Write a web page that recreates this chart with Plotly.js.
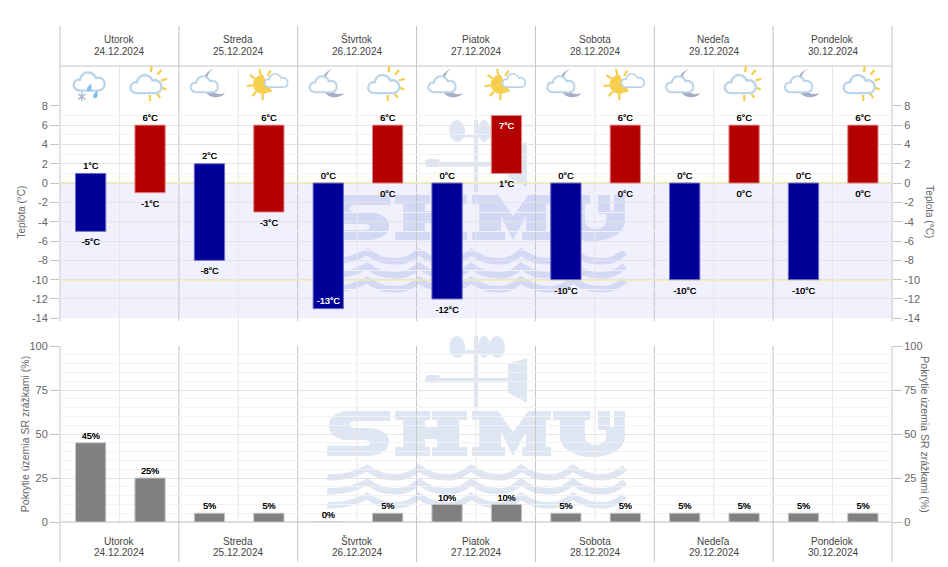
<!DOCTYPE html>
<html><head><meta charset="utf-8">
<script src="https://cdn.plot.ly/plotly-3.0.1.min.js"></script>
<style>html,body{margin:0;padding:0;background:#fff}#c{width:948px;height:567px}</style>
</head><body><div id="c"></div>
<script>
const dayNames = ['Utorok','Streda','Štvrtok','Piatok','Sobota','Nedeľa','Pondelok'];
const dayDates = ['24.12.2024','25.12.2024','26.12.2024','27.12.2024','28.12.2024','29.12.2024','30.12.2024'];
const slots = [0,1,2,3,4,5,6,7,8,9,10,11,12,13];
const lows  = [-5,-1,-8,-3,-13,0,-12,1,-10,0,-10,0,-10,0];
const highs = [1,6,2,6,0,6,0,7,0,6,0,6,0,6];
const precip = [45,25,5,5,0,5,10,10,5,5,5,5,5,5];
const icons = ['rain','sunR','moon','sunL','moon','sunR','moon','sunL','moon','sunL','moon','sunR','moon','sunR'];
const tempTicks = [-14,-12,-10,-8,-6,-4,-2,0,2,4,6,8];
const precipTicks = [0,25,50,75,100];

const W=948,H=567,L=59.5,R=892.3;
const px=x=>(x-L)/(R-L), py=y=>1-y/H;
const FONT='"Liberation Sans", Arial, sans-serif';
const cols={dn:'#c4c4c4',half:'#e6e6e6',major:'#e4e4e4',minor:'#f2f2f2',tick:'#666666',title:'#666666'};

function svgUri(s){return 'data:image/svg+xml;charset=utf-8,'+encodeURIComponent(s);}
const cloud=(dx,dy,k)=>`<path transform="translate(${dx} ${dy}) scale(${k})" d="M9 26 C3 26 1 21 2 18 C3 14 7 13 9 14 C10 7 16 4 21 6 C24 7 26 9 27 12 C31 10 37 13 37 19 C37 24 33 26 29 26 Z" fill="#fff" stroke="#bcd4e8" stroke-width="2.6" stroke-linejoin="round"/>`;
const rays=(cx,cy,r0,r1,from,to,n)=>{let s='';for(let i=0;i<n;i++){const a=(from+(to-from)*i/(n-1))*Math.PI/180;s+=`<line x1="${cx+r0*Math.cos(a)}" y1="${cy+r0*Math.sin(a)}" x2="${cx+r1*Math.cos(a)}" y2="${cy+r1*Math.sin(a)}" stroke="#f6cf4f" stroke-width="2.6"/>`;}return s;};
const iconSvg={
 rain:`<svg xmlns="http://www.w3.org/2000/svg" viewBox="0 0 50 50" width="50" height="50">${cloud(5,3,1)}<path d="M22 26 C25 22 26 21 26 21 C27 24 28 26 26 29 C24 31 21 29 22 26Z" fill="#7ec4ea"/><path d="M29 34 C32 30 33 29 33 29 C34 32 35 34 33 37 C31 39 28 37 29 34Z" fill="#7ec4ea"/><g stroke="#aab4c8" stroke-width="1.6"><line x1="12" y1="33" x2="20" y2="39"/><line x1="20" y1="33" x2="12" y2="39"/><line x1="16" y1="31" x2="16" y2="41"/></g></svg>`,
 sunR:`<svg xmlns="http://www.w3.org/2000/svg" viewBox="0 0 50 50" width="50" height="50">${rays(26,21,13,20,-85,90,6)}${cloud(2,6,1)}</svg>`,
 sunL:`<svg xmlns="http://www.w3.org/2000/svg" viewBox="0 0 50 50" width="50" height="50">${rays(19,22,11,18,90,300,6)}<path d="M19 11 A11 11 0 0 0 19 33 L30 30 Z" fill="#f6cf4f"/>${cloud(20,6,0.74)}</svg>`,
 moon:`<svg xmlns="http://www.w3.org/2000/svg" viewBox="0 0 50 50" width="50" height="50"><path d="M31 4 C24 8 20 18 26 26 C31 33 38 34 44 32 C38 39 26 38 21 30 C15 20 20 8 31 4Z" fill="#a8adc4"/>${cloud(3,8,0.88)}</svg>`
};
function wave(y){let d=`M327 ${y+7}`;const pk=[367,419,471,521,573,625];let prev=327;
 pk.forEach((p,i)=>{d+=` Q${(prev+p)/2} ${y+9} ${p} ${y-2}`;if(i<pk.length-1){d+=` Q${p+14} ${y+8} ${p+26} ${y+7}`;prev=p+26;}});return d;}
const logo=`<svg xmlns="http://www.w3.org/2000/svg" viewBox="320 330 320 200" width="320" height="200"><g fill="#dfe6f3" stroke="none">
<ellipse cx="457" cy="347" rx="8" ry="11"/><ellipse cx="484" cy="347" rx="6" ry="11"/><ellipse cx="497" cy="347" rx="8" ry="11"/>
<rect x="460" y="350" width="40" height="3.5"/><rect x="474" y="336" width="4" height="72"/><rect x="440" y="378" width="70" height="4.5"/><rect x="425" y="375" width="15" height="8" rx="3"/>
<path d="M508 364 L527 358 V403 L508 393Z"/>
<path d="M327 456 V446 H364 C372 446 372 440 364 440 H348 C322 440 322 411 348 411 H390 V421 H354 C348 421 348 428 354 428 H368 C396 428 396 456 368 456Z"/>
<path d="M395 411 H430 V420 H425 V427 H437 V420 H432 V411 H467 V420 H459 V447 H467 V456 H432 V447 H437 V439 H425 V447 H430 V456 H395 V447 H403 V420 H395Z"/>
<path d="M472 411 H498 L513 432 L528 411 H551 V420 H546 V447 H551 V456 H522 V447 H526 V432 L513 456 L501 432 V447 H505 V456 H472 V447 H479 V420 H472Z"/>
<path d="M553 411 H590 V420 H585 V436 C585 448 606 448 606 436 V430 H598 V411 H610 V427 H614 V411 H625 V436 C625 464 560 464 560 436 V420 H553Z"/>
</g><g fill="none" stroke="#dfe6f3" stroke-width="6.5"><path d="${wave(470)}"/><path d="${wave(484)}"/><path d="${wave(498)}"/></g></svg>`;

const images=[];
[0,-216].forEach(dy=>images.push({source:svgUri(logo),xref:'paper',yref:'paper',x:px(320),y:py(330+dy),sizex:320/(R-L),sizey:200/H,xanchor:'left',yanchor:'top',sizing:'stretch',layer:'below',opacity:1}));
icons.forEach((k,i)=>images.push({source:svgUri(iconSvg[k]),xref:'paper',yref:'paper',x:(i+0.5)/14,y:py(87),sizex:44/(R-L),sizey:44/H,xanchor:'center',yanchor:'middle',sizing:'stretch',layer:'above'}));

const shapes=[];
const vline=(x,y0,y1,c)=>shapes.push({type:'line',xref:'paper',yref:'paper',x0:x,x1:x,y0:py(y0),y1:py(y1),line:{color:c,width:1},layer:'below'});
const hline=(y,c)=>shapes.push({type:'line',xref:'paper',yref:'paper',x0:0,x1:1,y0:py(y),y1:py(y),line:{color:c,width:1},layer:'below'});
shapes.push({type:'rect',xref:'paper',yref:'y',x0:0,x1:1,y0:-14,y1:0,line:{width:0},fillcolor:'rgba(110,110,255,0.1)',layer:'below'});
for(let i=1;i<14;i+=2) vline(i/14,66,522,cols.half);
for(let i=0;i<=7;i++){vline(i/7,26,321,cols.dn);vline(i/7,346,562,cols.dn);}
hline(66,'#c4c4c4');
hline(522,'#bdbdbd');
[0,-10].forEach(v=>shapes.push({type:'line',xref:'paper',yref:'y',x0:0,x1:1,y0:v,y1:v,line:{color:'#f3ee9c',width:2},layer:'below'}));

const annotations=[];
dayNames.forEach((n,i)=>{
 [[39,n],[51,dayDates[i]],[541,n],[552.5,dayDates[i]]].forEach(([y,t])=>annotations.push({xref:'paper',yref:'paper',x:(i+0.5)/7,y:py(y),text:t,showarrow:false,xanchor:'center',yanchor:'middle',font:{family:FONT,size:10,color:'#444444'}}));
});
const titleFont={family:FONT,size:10,color:cols.title};
const titleFont2={family:FONT,size:10.5,color:cols.title};
annotations.push({xref:'paper',yref:'paper',x:px(930),y:py(212),text:'Teplota (°C)',textangle:90,showarrow:false,xanchor:'center',yanchor:'middle',font:titleFont});
annotations.push({xref:'paper',yref:'paper',x:px(925),y:py(434),text:'Pokrytie územia SR zrážkami (%)',textangle:90,showarrow:false,xanchor:'center',yanchor:'middle',font:titleFont2});

const barBase={type:'bar',width:0.51,hoverinfo:'skip',showlegend:false};
const isBlue=slots.map(i=>i%2===0);
const sel=(arr,b)=>arr.filter((_,i)=>isBlue[i]===b);
const highInside=highs.map(v=>v>=7), lowInside=lows.map(v=>v<=-13);
const lblFont=(inside)=>({family:FONT,size:9,color:inside.map(b=>b?'#ffffff':'#000000'),shadow:inside.map(b=>b?'0.3px 0 0 #ffffff':'0.3px 0 0 #000000')});
const ghost=(size)=>({size,opacity:0,line:{width:0}});
const traces=[
 {...barBase,x:sel(slots,true),y:sel(slots,true).map(i=>highs[i]-lows[i]),base:sel(lows,true),marker:{color:'#000099',line:{color:'#6f6fc8',width:1}}},
 {...barBase,x:sel(slots,false),y:sel(slots,false).map(i=>highs[i]-lows[i]),base:sel(lows,false),marker:{color:'#b30000',line:{color:'#e88a8a',width:1}}},
 {type:'scatter',mode:'markers+text',marker:ghost(highInside.map(b=>b?10:2)),x:slots,y:highs,text:highs.map(v=>v+'°C'),textposition:highInside.map(b=>b?'bottom center':'top center'),textfont:lblFont(highInside),hoverinfo:'skip',showlegend:false,cliponaxis:false},
 {type:'scatter',mode:'markers+text',marker:ghost(lowInside.map(b=>b?3:10)),x:slots,y:lows,text:lows.map(v=>v+'°C'),textposition:lowInside.map(b=>b?'top center':'bottom center'),textfont:lblFont(lowInside),hoverinfo:'skip',showlegend:false,cliponaxis:false},
 {...barBase,x:slots,y:precip,xaxis:'x2',yaxis:'y2',marker:{color:'#808080',line:{color:'#c8c8c8',width:1}}},
 {type:'scatter',mode:'markers+text',marker:ghost(1),x:slots,y:precip,xaxis:'x2',yaxis:'y2',text:precip.map(v=>v+'%'),textposition:'top center',textfont:lblFont(precip.map(()=>false)),hoverinfo:'skip',showlegend:false,cliponaxis:false},
 {type:'scatter',mode:'none',x:slots,y:highs,yaxis:'y3',hoverinfo:'skip',showlegend:false},
 {type:'scatter',mode:'none',x:slots,y:precip,xaxis:'x2',yaxis:'y4',hoverinfo:'skip',showlegend:false}
];

const yCommon=(ticks,range)=>({range,tickmode:'array',tickvals:ticks,ticktext:ticks.map(String),ticks:'outside',ticklen:9,tickcolor:'#c4c4c4',tickwidth:1,tickfont:{family:FONT,size:11,color:cols.tick},showline:false,zeroline:false,fixedrange:true});
const topDom=[py(318.3),py(105.8)], botDom=[py(522),py(346)];
const xCommon={range:[-0.516,13.49],showticklabels:false,ticks:'',showgrid:false,zeroline:false,showline:false,fixedrange:true};
const layout={
 width:W,height:H,margin:{l:L,r:W-R,t:0,b:0},paper_bgcolor:'rgba(0,0,0,0)',plot_bgcolor:'rgba(0,0,0,0)',showlegend:false,barmode:'overlay',
 xaxis:{...xCommon,anchor:'y'},
 xaxis2:{...xCommon,anchor:'y2'},
 yaxis:{...yCommon(tempTicks,[-14,8]),domain:topDom,anchor:'x',showgrid:true,gridcolor:cols.major,gridwidth:1,minor:{dtick:1,showgrid:true,gridcolor:cols.minor,gridwidth:1,ticks:''},title:{text:'Teplota (°C)',font:titleFont,standoff:4}},
 yaxis2:{...yCommon(precipTicks,[0,100]),domain:botDom,anchor:'x2',showgrid:true,gridcolor:cols.major,gridwidth:1,minor:{dtick:5,showgrid:true,gridcolor:cols.minor,gridwidth:1,ticks:''},title:{text:'Pokrytie územia SR zrážkami (%)',font:titleFont2,standoff:-3}},
 yaxis3:{...yCommon(tempTicks,[-14,8]),domain:topDom,anchor:'x',overlaying:'y',side:'right',showgrid:false},
 yaxis4:{...yCommon(precipTicks,[0,100]),domain:botDom,anchor:'x2',overlaying:'y2',side:'right',showgrid:false},
 shapes,annotations,images
};
Plotly.newPlot('c',traces,layout,{displayModeBar:false,staticPlot:true});
</script></body></html>
